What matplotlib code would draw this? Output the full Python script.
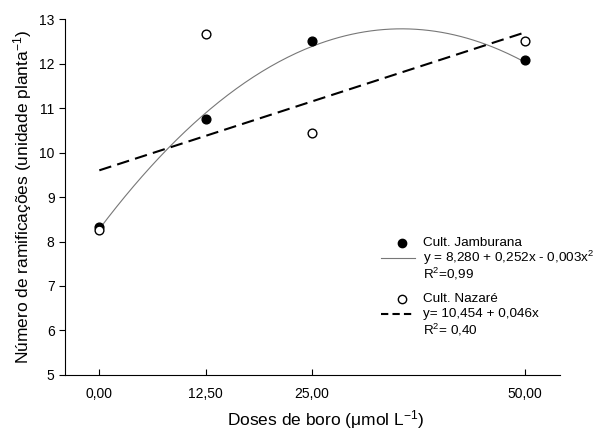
#Doses de boro x numero de ramificacoes, two cultivars with fitted curves

import numpy as np
import matplotlib
matplotlib.use('Agg')
import matplotlib.pyplot as plt

plt.rcParams['font.family'] = ['Liberation Sans', 'DejaVu Sans']
plt.rcParams['mathtext.default'] = 'regular'

doses = [0, 12.5, 25, 50]
jamburana = [8.33, 10.75, 12.50, 12.08]
nazare = [8.25, 12.67, 10.45, 12.50]

#fitted curves (coefficients, lowest order first)
coef_jamb = [8.280, 0.2535, -0.00357]
coef_naz = [9.60, 0.062]

xticks = [0, 12.5, 25, 50]
xticklabels = ['0,00', '12,50', '25,00', '50,00']
yticks = [5, 6, 7, 8, 9, 10, 11, 12, 13]

fig = plt.figure(figsize=(5.97, 4.33), dpi=100)
ax = fig.add_axes([0.1089, 0.134, 0.829, 0.822])

xs = np.linspace(doses[0], doses[-1], 200)
ax.plot(xs, np.polynomial.polynomial.polyval(xs, coef_jamb), color='#777777', lw=0.8)
ax.plot(xs, np.polynomial.polynomial.polyval(xs, coef_naz), color='black', lw=1.5,
        dashes=(6, 3))

ax.plot(doses, jamburana, 'o', color='black', ms=6.3, zorder=3)
ax.plot(doses, nazare, 'o', mfc='white', mec='black', mew=1.0, ms=6.3, zorder=3)

ax.set_xlim(-4.03, 54.1)
ax.set_ylim(5, 13)
ax.set_xticks(xticks)
ax.set_xticklabels(xticklabels)
ax.set_yticks(yticks)
ax.spines['top'].set_visible(False)
ax.spines['right'].set_visible(False)
ax.tick_params(axis='x', direction='in', length=4, labelsize=10, pad=9)
ax.tick_params(axis='y', direction='out', length=4, labelsize=10)
ax.set_xlabel(r'Doses de boro ($\mu$mol L$^{-1}$)', fontsize=12.5)
ax.xaxis.set_label_coords(0.526, -0.093)
ax.set_ylabel(r'Número de ramificações (unidade planta$^{-1}$)', fontsize=12.5, labelpad=4)

#legend drawn by hand
tr = ax.transAxes
fs = 9.7
ax.plot([0.680], [0.371], 'o', color='black', ms=6, transform=tr, clip_on=False)
ax.text(0.723, 0.371, 'Cult. Jamburana', transform=tr, fontsize=fs, va='center')
ax.plot([0.638, 0.707], [0.329, 0.329], color='#777777', lw=0.8, transform=tr)
ax.text(0.723, 0.329, r'y = 8,280 + 0,252x - 0,003x$^2$', transform=tr, fontsize=fs, va='center')
ax.text(0.723, 0.284, r'R$^2$=0,99', transform=tr, fontsize=fs, va='center')
ax.plot([0.680], [0.213], 'o', mfc='white', mec='black', mew=1.0, ms=6, transform=tr, clip_on=False)
ax.text(0.723, 0.213, 'Cult. Nazaré', transform=tr, fontsize=fs, va='center')
ax.plot([0.638, 0.703], [0.171, 0.171], color='black', lw=1.5, dashes=(3.5, 2), transform=tr)
ax.text(0.723, 0.171, 'y= 10,454 + 0,046x', transform=tr, fontsize=fs, va='center')
ax.text(0.723, 0.126, r'R$^2$= 0,40', transform=tr, fontsize=fs, va='center')

fig.savefig('out.png', dpi=100)
